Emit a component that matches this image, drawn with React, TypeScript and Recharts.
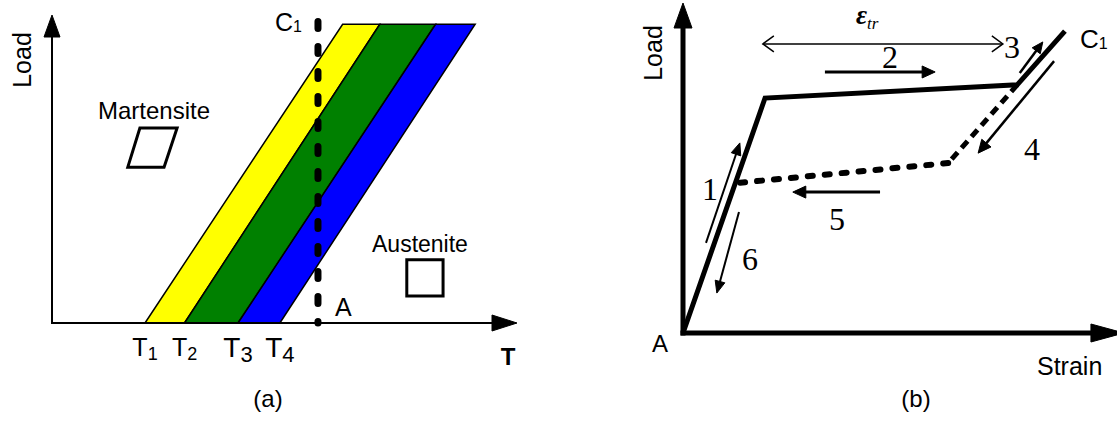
import React from 'react';
import { ComposedChart, Area, Line, XAxis, YAxis, ReferenceLine } from 'recharts';

const SANS = '"Liberation Sans", Arial, sans-serif';
const SERIF = '"Liberation Serif", "Times New Roman", serif';

// ---- panel (a): load / temperature phase diagram ----
const tempTicks = [20, 28.5, 40, 49];
const tempTickSubs = ['1', '2', '3', '4'];

// each band is a parallelogram: bottom-left, top-left, top-right, bottom-right
const yellowBand = [
  { t: 20, load: 0 },
  { t: 62.5, load: 97 },
  { t: 70.5, load: 97 },
  { t: 28.5, load: 0 },
];
const greenBand = [
  { t: 28.5, load: 0 },
  { t: 70.5, load: 97 },
  { t: 82.5, load: 97 },
  { t: 40, load: 0 },
];
const blueBand = [
  { t: 40, load: 0 },
  { t: 82.5, load: 97 },
  { t: 91, load: 97 },
  { t: 49, load: 0 },
];
const martensiteCell = [
  { t: 18.9, load: 63.3 },
  { t: 26.9, load: 63.3 },
  { t: 24.1, load: 50.6 },
  { t: 16.3, load: 50.6 },
  { t: 18.9, load: 63.3 },
  { t: 26.9, load: 63.3 },
];
const austeniteCell = [
  { t: 76.3, load: 20.5 },
  { t: 84.1, load: 20.5 },
  { t: 84.1, load: 8.8 },
  { t: 76.3, load: 8.8 },
  { t: 76.3, load: 20.5 },
  { t: 84.1, load: 20.5 },
];
const isothermPath = [
  { t: 57.2, load: 97.9 },
  { t: 57.2, load: 0 },
];
const loadAxisA = [
  { t: 0, load: 0 },
  { t: 0, load: 100 },
];
const tempAxisA = [
  { t: 0, load: 0 },
  { t: 100, load: 0 },
];

// ---- panel (b): load / strain ----
const loadingPath = [
  { strain: 0, load: 0 },
  { strain: 18.9, load: 71.2 },
  { strain: 77, load: 75.2 },
  { strain: 88, load: 91.5 },
];
const unloadDash = [
  { strain: 77, load: 75.2 },
  { strain: 61.1, load: 51.5 },
];
const unloadDots = [
  { strain: 61.1, load: 51.5 },
  { strain: 12.8, load: 45.5 },
];
const loadAxisB = [
  { strain: 0, load: 0 },
  { strain: 0, load: 100 },
];
const strainAxisB = [
  { strain: 0, load: 0 },
  { strain: 101.6, load: 0 },
];
const epsTrSpan = [
  { strain: 18.4, load: 87.6 },
  { strain: 73.7, load: 87.6 },
];
const arrow1 = [
  { strain: 5.3, load: 27.3 },
  { strain: 13.1, load: 57.6 },
];
const arrow2 = [
  { strain: 32.7, load: 79.1 },
  { strain: 58.1, load: 79.1 },
];
const arrow3 = [
  { strain: 77.6, load: 78.8 },
  { strain: 82.9, load: 88.2 },
];
const arrow4 = [
  { strain: 85.5, load: 82.4 },
  { strain: 68.0, load: 54.5 },
];
const arrow5 = [
  { strain: 45.4, load: 42.7 },
  { strain: 25.3, load: 42.7 },
];
const arrow6 = [
  { strain: 12.9, load: 36.7 },
  { strain: 7.8, load: 12.1 },
];

type ArrowOpts = {
  width: number;
  len: number;
  half: number;
  open?: boolean;
  both?: boolean;
  cap?: 'butt' | 'square' | 'round';
};

// line with arrow head(s), endpoints come from the reference line scale
const arrowShape = (o: ArrowOpts) => (p: any) => {
  const { x1, y1, x2, y2 } = p;
  if ([x1, y1, x2, y2].some((v) => typeof v !== 'number' || isNaN(v))) return <g />;
  const d = Math.hypot(x2 - x1, y2 - y1) || 1;
  const ux = (x2 - x1) / d;
  const uy = (y2 - y1) / d;
  const nx = -uy;
  const ny = ux;
  const head = (tx: number, ty: number, sx: number, sy: number) => {
    const bx = tx - sx * o.len;
    const by = ty - sy * o.len;
    const pts = `${bx + nx * o.half},${by + ny * o.half} ${tx},${ty} ${bx - nx * o.half},${by - ny * o.half}`;
    return o.open ? (
      <polyline points={pts} fill="none" stroke="#000" strokeWidth={o.width} />
    ) : (
      <polygon points={pts} fill="#000" stroke="#000" strokeWidth={1} strokeLinejoin="miter" />
    );
  };
  const trim = o.open ? 0 : o.len * 0.8;
  const sx1 = o.both ? x1 + ux * trim : x1;
  const sy1 = o.both ? y1 + uy * trim : y1;
  return (
    <g>
      <line
        x1={sx1}
        y1={sy1}
        x2={x2 - ux * trim}
        y2={y2 - uy * trim}
        stroke="#000"
        strokeWidth={o.width}
        strokeLinecap={o.cap ?? 'butt'}
      />
      {o.both && head(x1, y1, -ux, -uy)}
      {head(x2, y2, ux, uy)}
    </g>
  );
};

const seg = (pts: any[], key: string) => pts.map((p) => ({ x: p[key], y: p.load }));

const TempTick = (props: any) => {
  const { x, y, payload } = props;
  const i = tempTicks.indexOf(payload.value);
  const big = i >= 2;
  return (
    <text
      x={x}
      y={y + (big ? 34 : 33)}
      textAnchor="middle"
      fontFamily={SANS}
      fontSize={big ? 28 : 25}
      fill="#000"
    >
      T
      <tspan fontSize={big ? 22 : 18} dy={big ? 5 : 4}>
        {tempTickSubs[i]}
      </tspan>
    </text>
  );
};

const PhaseChart = () => (
  <ComposedChart width={560} height={426} margin={{ top: 15, right: 43, bottom: 63, left: 52 }}>
    <XAxis
      dataKey="t"
      type="number"
      domain={[0, 100]}
      ticks={tempTicks}
      axisLine={false}
      tickLine={false}
      tickSize={0}
      tickMargin={0}
      height={40}
      tick={<TempTick />}
      interval={0}
    />
    <YAxis dataKey="load" type="number" domain={[0, 100]} hide />
    <Area data={yellowBand} dataKey="load" type="linear" fill="#FFFF00" fillOpacity={1} stroke="#000" strokeWidth={1.5} baseValue={0} isAnimationActive={false} />
    <Area data={greenBand} dataKey="load" type="linear" fill="#008000" fillOpacity={1} stroke="#000" strokeWidth={1.5} baseValue={0} isAnimationActive={false} />
    <Area data={blueBand} dataKey="load" type="linear" fill="#0000FF" fillOpacity={1} stroke="#000" strokeWidth={1.5} baseValue={0} isAnimationActive={false} />
    <Line data={martensiteCell} dataKey="load" type="linear" stroke="#000" strokeWidth={3} dot={false} isAnimationActive={false} />
    <Line data={austeniteCell} dataKey="load" type="linear" stroke="#000" strokeWidth={3} dot={false} isAnimationActive={false} />
    <ReferenceLine segment={seg(loadAxisA, 't')} ifOverflow="visible" shape={arrowShape({ width: 2, len: 22, half: 8, cap: 'square' })} />
    <ReferenceLine segment={seg(tempAxisA, 't')} ifOverflow="visible" shape={arrowShape({ width: 2, len: 25, half: 8, cap: 'square' })} />
    <ReferenceLine
      segment={seg(isothermPath, 't')}
      ifOverflow="visible"
      stroke="#000"
      strokeWidth={7}
      strokeDasharray="7 18"
      strokeLinecap="round"
    />
  </ComposedChart>
);

const StrainChart = () => (
  <ComposedChart width={557} height={426} margin={{ top: 3, right: 0, bottom: 93, left: 123 }}>
    <XAxis dataKey="strain" type="number" domain={[0, 100]} hide />
    <YAxis dataKey="load" type="number" domain={[0, 100]} hide />
    <ReferenceLine segment={seg(loadAxisB, 'strain')} ifOverflow="visible" shape={arrowShape({ width: 5, len: 25, half: 9, cap: 'square' })} />
    <ReferenceLine segment={seg(strainAxisB, 'strain')} ifOverflow="visible" shape={arrowShape({ width: 5, len: 33, half: 9, cap: 'square' })} />
    <Line data={loadingPath} dataKey="load" type="linear" stroke="#000" strokeWidth={5} strokeLinejoin="miter" dot={false} isAnimationActive={false} />
    <Line data={unloadDash} dataKey="load" type="linear" stroke="#000" strokeWidth={5} strokeDasharray="9 6" dot={false} isAnimationActive={false} />
    <Line data={unloadDots} dataKey="load" type="linear" stroke="#000" strokeWidth={6} strokeDasharray="5 12" strokeLinecap="round" dot={false} isAnimationActive={false} />
    <ReferenceLine segment={seg(epsTrSpan, 'strain')} ifOverflow="visible" shape={arrowShape({ width: 1.5, len: 11, half: 8, open: true, both: true })} />
    <ReferenceLine segment={seg(arrow1, 'strain')} ifOverflow="visible" shape={arrowShape({ width: 2, len: 12, half: 5 })} />
    <ReferenceLine segment={seg(arrow2, 'strain')} ifOverflow="visible" shape={arrowShape({ width: 3, len: 13, half: 6 })} />
    <ReferenceLine segment={seg(arrow3, 'strain')} ifOverflow="visible" shape={arrowShape({ width: 2.5, len: 11, half: 5 })} />
    <ReferenceLine segment={seg(arrow4, 'strain')} ifOverflow="visible" shape={arrowShape({ width: 2.5, len: 13, half: 6 })} />
    <ReferenceLine segment={seg(arrow5, 'strain')} ifOverflow="visible" shape={arrowShape({ width: 3, len: 13, half: 6 })} />
    <ReferenceLine segment={seg(arrow6, 'strain')} ifOverflow="visible" shape={arrowShape({ width: 2, len: 12, half: 5 })} />
  </ComposedChart>
);

// text labels drawn over both panels
const Labels = () => (
  <svg width={1117} height={426} style={{ position: 'absolute', left: 0, top: 0, pointerEvents: 'none' }}>
    <g fontFamily={SANS} fill="#000">
      <text x={31} y={60} fontSize={25} textAnchor="middle" transform="rotate(-90 31 60)">Load</text>
      <text x={98} y={119} fontSize={24}>Martensite</text>
      <text x={372} y={252} fontSize={23}>Austenite</text>
      <text x={275} y={31} fontSize={25}>
        C<tspan fontSize={16} dy={1}>1</tspan>
      </text>
      <text x={335} y={316} fontSize={25}>A</text>
      <text x={508} y={365} fontSize={24} fontWeight="bold" textAnchor="middle">T</text>
      <text x={268} y={407} fontSize={24} textAnchor="middle">(a)</text>

      <text x={662} y={53} fontSize={25} textAnchor="middle" transform="rotate(-90 662 53)">Load</text>
      <text x={1080} y={48} fontSize={26}>
        C<tspan fontSize={16} dy={1}>1</tspan>
      </text>
      <text x={652} y={352} fontSize={24}>A</text>
      <text x={1037} y={375} fontSize={25}>Strain</text>
      <text x={916} y={407} fontSize={24} textAnchor="middle">(b)</text>
    </g>
    <g fontFamily={SERIF} fill="#000" fontSize={32}>
      <text x={856} y={24} fontSize={27} fontStyle="italic" fontWeight="bold">
        ε<tspan fontSize={17} fontWeight="normal" dy={5}>tr</tspan>
      </text>
      <text x={702} y={200}>1</text>
      <text x={882} y={68}>2</text>
      <text x={1004} y={58}>3</text>
      <text x={1024} y={160}>4</text>
      <text x={829} y={230}>5</text>
      <text x={742} y={270}>6</text>
    </g>
  </svg>
);

export default function App() {
  return (
    <div style={{ position: 'absolute', left: 0, top: 0, width: 1117, height: 426, background: '#fff' }}>
      <div style={{ position: 'absolute', left: 0, top: 0 }}>
        <PhaseChart />
      </div>
      <div style={{ position: 'absolute', left: 560, top: 0 }}>
        <StrainChart />
      </div>
      <Labels />
    </div>
  );
}
